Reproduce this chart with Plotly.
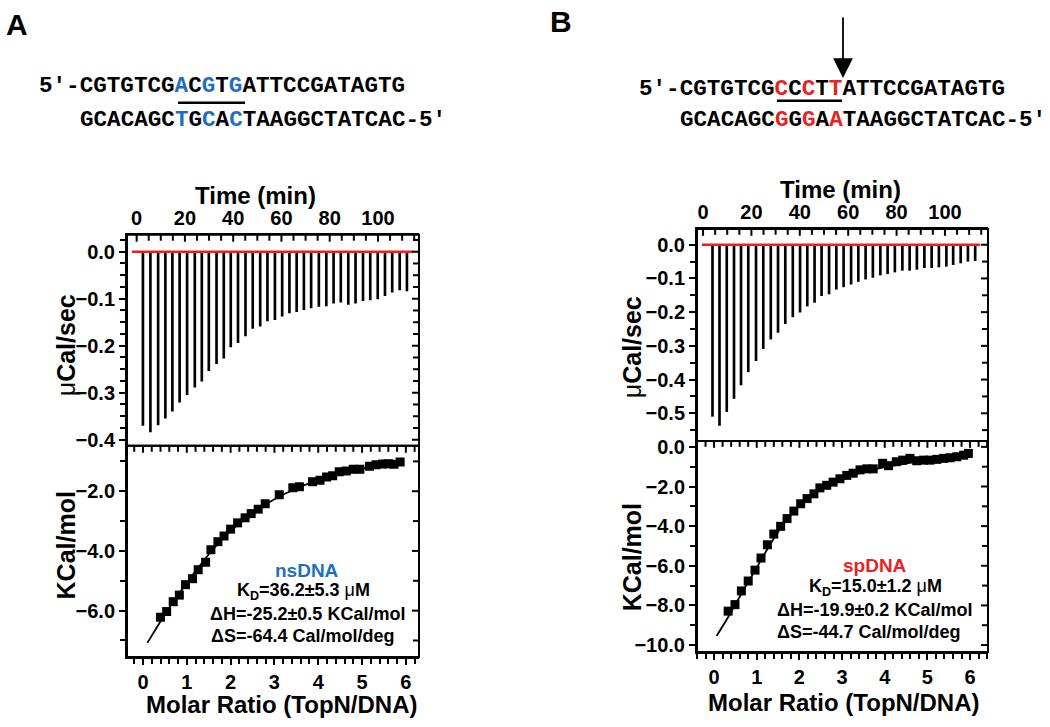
import plotly.graph_objects as go

# ---- data ----
# panel A (nsDNA): raw thermogram
a_time = [2.6, 5.7, 8.9, 11.9, 14.8, 17.8, 20.9, 24.1, 27.0, 29.9, 33.1, 36.1, 39.0,
          42.0, 45.1, 48.1, 51.2, 54.2, 57.3, 60.3, 63.3, 66.3, 69.3, 72.3, 75.5,
          78.6, 81.6, 84.6, 87.7, 90.7, 93.8, 96.8, 99.9, 102.9, 105.9, 109.0, 112.0]
a_peak = [-0.370, -0.384, -0.369, -0.355, -0.340, -0.321, -0.305, -0.289, -0.276,
          -0.254, -0.239, -0.227, -0.203, -0.194, -0.180, -0.164, -0.159, -0.148,
          -0.145, -0.138, -0.131, -0.128, -0.124, -0.120, -0.117, -0.116, -0.110,
          -0.108, -0.113, -0.110, -0.105, -0.103, -0.101, -0.094, -0.087, -0.082, -0.084]
a_base_t = [-2.0, 114.6]
a_base_v = [0.0, 0.0]
# panel A: integrated heats
a_ratio = [0.40, 0.54, 0.69, 0.83, 0.97, 1.13, 1.26, 1.43, 1.55, 1.71, 1.85, 2.00,
           2.16, 2.33, 2.47, 2.63, 2.79, 3.11, 3.42, 3.57, 3.87, 4.04, 4.19, 4.33,
           4.48, 4.64, 4.80, 4.95, 5.17, 5.32, 5.47, 5.60, 5.73, 5.87]
a_heat = [-6.22, -6.03, -5.70, -5.48, -5.13, -4.93, -4.63, -4.38, -3.96, -3.69,
          -3.50, -3.27, -3.06, -2.89, -2.75, -2.60, -2.42, -2.12, -1.88, -1.85,
          -1.68, -1.63, -1.52, -1.48, -1.35, -1.32, -1.26, -1.26, -1.16, -1.11,
          -1.09, -1.08, -1.10, -1.02]
a_fit_x = [0.10, 0.30, 0.50, 0.75, 1.00, 1.25, 1.50, 1.75, 2.00, 2.50, 3.00, 3.50,
           4.00, 4.50, 5.00, 5.50, 5.90]
a_fit_y = [-7.08, -6.60, -6.12, -5.58, -5.07, -4.58, -4.12, -3.70, -3.33, -2.74,
           -2.27, -1.91, -1.63, -1.42, -1.25, -1.12, -1.03]

# panel B (spDNA): raw thermogram
b_time = [3.9, 6.8, 9.8, 12.8, 15.7, 18.7, 21.9, 24.9, 28.0, 31.0, 34.0, 37.1, 40.1,
          43.1, 46.1, 49.0, 52.1, 55.1, 58.1, 61.2, 64.2, 67.2, 70.2, 73.3, 76.3,
          79.3, 82.4, 85.4, 88.4, 91.5, 94.5, 97.5, 100.6, 103.4, 106.5, 109.5, 112.5]
b_peak = [-0.510, -0.537, -0.496, -0.457, -0.417, -0.378, -0.345, -0.309, -0.281,
          -0.261, -0.235, -0.215, -0.201, -0.183, -0.172, -0.152, -0.147, -0.133,
          -0.126, -0.118, -0.110, -0.103, -0.098, -0.091, -0.087, -0.082, -0.077,
          -0.077, -0.074, -0.069, -0.069, -0.067, -0.065, -0.060, -0.055, -0.050, -0.048]
b_base_t = [-0.5, 114.6]
b_base_v = [0.0, 0.0]
# panel B: integrated heats
b_ratio = [0.33, 0.49, 0.64, 0.80, 0.96, 1.10, 1.25, 1.40, 1.56, 1.71, 1.87, 2.03,
           2.18, 2.34, 2.48, 2.64, 2.79, 2.95, 3.11, 3.26, 3.42, 3.58, 3.73, 3.95,
           4.09, 4.27, 4.42, 4.59, 4.75, 4.91, 5.06, 5.22, 5.38, 5.53, 5.69, 5.85, 5.96]
b_heat = [-8.29, -7.96, -7.27, -6.77, -6.22, -5.61, -4.94, -4.40, -4.01, -3.62,
          -3.24, -2.87, -2.61, -2.37, -2.07, -1.94, -1.78, -1.61, -1.44, -1.33,
          -1.16, -1.11, -1.11, -0.83, -0.95, -0.75, -0.67, -0.58, -0.70, -0.67,
          -0.67, -0.63, -0.58, -0.55, -0.50, -0.42, -0.33]
b_fit_x = [0.06, 0.30, 0.50, 0.75, 1.00, 1.25, 1.50, 1.75, 2.00, 2.50, 3.00, 3.50,
           4.00, 4.50, 5.00, 5.50, 6.00]
b_fit_y = [-9.54, -8.70, -7.95, -7.00, -6.10, -5.15, -4.30, -3.55, -2.95, -2.15,
           -1.62, -1.27, -1.02, -0.84, -0.71, -0.60, -0.50]

seq_a = ["5′-CGTGTCG", "A", "C", "G", "T", "G", "ATTCCGATAGTG"]
seq_a2 = ["GCACAGC", "T", "G", "C", "A", "C", "TAAGGCTATCAC-5′"]
seq_b = ["5′-CGTGTCG", "C", "C", "C", "T", "T", "ATTCCGATAGTG"]
seq_b2 = ["GCACAGC", "G", "G", "G", "A", "A", "TAAGGCTATCAC-5′"]

BLUE = "#1f6fc0"
RED = "#e8231f"
W, H = 1050, 727
SANS = "Liberation Sans, Arial, sans-serif"
MONO = "Liberation Mono, Courier New, monospace"


def px(x):
    return x / W


def py(y):
    return 1 - y / H


fig = go.Figure()

panels = [
    dict(t=a_time, p=a_peak, bt=a_base_t, bv=a_base_v, r=a_ratio, h=a_heat,
         fx=a_fit_x, fy=a_fit_y, xt="x", yt="y", xm="x2", ym="y2"),
    dict(t=b_time, p=b_peak, bt=b_base_t, bv=b_base_v, r=b_ratio, h=b_heat,
         fx=b_fit_x, fy=b_fit_y, xt="x3", yt="y3", xm="x4", ym="y4"),
]
for pn in panels:
    fig.add_trace(go.Bar(x=pn["t"], y=pn["p"], width=1.1, marker=dict(color="black", line=dict(width=0)),
                         xaxis=pn["xt"], yaxis=pn["yt"], showlegend=False))
    fig.add_trace(go.Scatter(x=pn["bt"], y=pn["bv"], mode="lines", line=dict(color=RED, width=2.5),
                             xaxis=pn["xt"], yaxis=pn["yt"], showlegend=False))
    fig.add_trace(go.Scatter(x=pn["fx"], y=pn["fy"], mode="lines", line=dict(color="black", width=1.8, shape="spline"),
                             xaxis=pn["xm"], yaxis=pn["ym"], showlegend=False))
    fig.add_trace(go.Scatter(x=pn["r"], y=pn["h"], mode="markers",
                             marker=dict(symbol="square", size=9, color="black"),
                             xaxis=pn["xm"], yaxis=pn["ym"], showlegend=False))

tickfont = dict(family=SANS, size=20, color="black", weight="bold")


def ax(**kw):
    d = dict(showline=True, linewidth=2, linecolor="black", showgrid=False, zeroline=False,
             ticklen=6, tickwidth=2, tickcolor="black", tickfont=tickfont)
    d.update(kw)
    return d


def minor(dt):
    return dict(dtick=dt, tick0=0, ticklen=5, tickwidth=2, tickcolor="black", ticks="outside")


def tick_vals(lo, hi, dt_minor, dt_major):
    out = []
    k = int(lo // dt_minor) - 1
    while k * dt_minor <= hi + 1e-9:
        v = k * dt_minor
        if lo <= v <= hi:
            q = v / dt_major
            out.append((v, abs(q - round(q)) < 1e-6))
        k += 1
    return out


def inside_ticks(p0, p1, rng, edge, orient, dt_minor, dt_major):
    # tick marks pointing into a box, placed in pixel space along one edge
    res = []
    lo, hi = rng
    for v, major in tick_vals(lo, hi, dt_minor, dt_major):
        L = 7 if major else 6
        f = (v - lo) / (hi - lo)
        line = dict(color="black", width=2)
        if orient == "top":
            x = p0 + f * (p1 - p0)
            res.append(dict(type="line", xref="paper", yref="paper", x0=px(x), x1=px(x),
                            y0=py(edge), y1=py(edge + L), line=line, layer="above"))
        else:
            y = p0 - f * (p0 - p1)
            res.append(dict(type="line", xref="paper", yref="paper", y0=py(y), y1=py(y),
                            x0=px(edge), x1=px(edge - L), line=line, layer="above"))
    return res


# panel geometry (pixels)
A = dict(x0=127, x1=419, yt=233, ym=447, yb=661)
B = dict(x0=697, x1=988, yt=227, ym=442, yb=656)

shapes = []
layout_axes = {}
for g, names, rng in [
    (A, ("xaxis", "yaxis", "xaxis2", "yaxis2"),
     dict(t=[-4, 117], u=[-0.413, 0.036], umin=0.025, m=[-0.365, 6.3], k=[-7.55, -0.48])),
    (B, ("xaxis3", "yaxis3", "xaxis4", "yaxis4"),
     dict(t=[-2.5, 117.8], u=[-0.582, 0.047], umin=0.05, m=[-0.4, 6.42], k=[-10.35, 0.3])),
]:
    xt, yt, xm, ym = names
    xdom = [px(g["x0"]), px(g["x1"])]
    top_dom = [py(g["ym"]), py(g["yt"])]
    bot_dom = [py(g["yb"]), py(g["ym"])]
    s = lambda n: n.replace("axis", "")
    layout_axes[xt] = ax(domain=xdom, anchor=s(yt), side="top", range=rng["t"], dtick=20, tick0=0,
                         ticks="")
    layout_axes[yt] = ax(domain=top_dom, anchor=s(xt), range=rng["u"], dtick=0.1, tick0=0,
                         tickformat=".1f", ticks="outside", minor=minor(rng["umin"]))
    layout_axes[xm] = ax(domain=xdom, anchor=s(ym), side="bottom", range=rng["m"], dtick=1, tick0=0,
                         ticks="outside", minor=minor(0.2))
    layout_axes[ym] = ax(domain=bot_dom, anchor=s(xm), range=rng["k"], dtick=2, tick0=0,
                         tickformat=".1f", ticks="outside", minor=minor(1))
    # frame of both boxes
    for y0, y1 in [(g["yt"], g["ym"]), (g["ym"], g["yb"])]:
        shapes.append(dict(type="rect", xref="paper", yref="paper", layer="above",
                           x0=px(g["x0"]), x1=px(g["x1"]), y0=py(y1), y1=py(y0),
                           line=dict(color="black", width=2), fillcolor="rgba(0,0,0,0)"))
    # inside ticks: top of time axis, right sides, top of lower box
    shapes += inside_ticks(g["x0"], g["x1"], rng["t"], g["yt"], "top", 5, 20)
    shapes += inside_ticks(g["ym"], g["yt"], rng["u"], g["x1"], "right", rng["umin"], 0.1)
    shapes += inside_ticks(g["x0"], g["x1"], rng["m"], g["ym"], "top", 0.2, 1)
    shapes += inside_ticks(g["yb"], g["ym"], rng["k"], g["x1"], "right", 1, 2)

fig.update_layout(**layout_axes)

ann = []


def text(x, y, t, size=18, color="black", family=SANS, weight="bold", xanchor="center", angle=0):
    ann.append(dict(x=px(x), y=py(y), xref="paper", yref="paper", text=t, showarrow=False,
                    xanchor=xanchor, yanchor="middle", textangle=angle, borderpad=0,
                    font=dict(family=family, size=size, color=color, weight=weight)))


def seq(parts, color):
    out = ""
    for i, p in enumerate(parts):
        if i in (1, 3, 5):
            out += f"<span style='color:{color}'>{p}</span>"
        else:
            out += p
    return out


# panel letters
text(17, 20, "A", size=30)
text(561, 17, "B", size=30)

# sequences
SEQ = 22.6
CH = SEQ * 0.6
SA, SB = 38, 638
text(SA, 82, seq(seq_a, BLUE), size=SEQ, family=MONO, xanchor="left")
text(SA + 3 * CH, 117, seq(seq_a2, BLUE), size=SEQ, family=MONO, xanchor="left")
text(SB, 85, seq(seq_b, RED), size=SEQ, family=MONO, xanchor="left")
text(SB + 3 * CH, 117, seq(seq_b2, RED), size=SEQ, family=MONO, xanchor="left")

shapes += [
    dict(type="line", xref="paper", yref="paper", x0=px(178), x1=px(245),
         y0=py(99), y1=py(99), line=dict(color="black", width=2.5)),
    dict(type="line", xref="paper", yref="paper", x0=px(777), x1=px(842),
         y0=py(97), y1=py(97), line=dict(color="black", width=2.5)),
]

# cleavage arrow
ann.append(dict(x=px(843), y=py(74), xref="paper", yref="paper", ax=0, ay=-62, text="",
                showarrow=True, arrowhead=2, arrowsize=2.2, arrowwidth=1.8, arrowcolor="black"))

# axis titles
for (tx, ty, mx, my, ux, uy, kx, ky) in [
    (255, 193, 282, 709, 66, 345, 66, 548),
    (840, 187, 844, 707, 632, 347, 632, 560),
]:
    text(tx, ty, "Time (min)", size=24)
    text(mx, my, "Molar Ratio (TopN/DNA)", size=24)
    text(ux, uy, "<span style='font-weight:normal'>μ</span>Cal/sec", size=25, angle=-90)
    text(kx, ky, "KCal/mol", size=25, angle=-90)

# fit results
mu = "<span style='font-weight:normal'>μ</span>"
text(307, 573, "nsDNA", size=19, color=BLUE)
text(303, 595, f"K<sub>D</sub>=36.2±5.3 {mu}M", size=18)
text(307, 617, "ΔH=-25.2±0.5 KCal/mol", size=18)
text(303, 640, "ΔS=-64.4 Cal/mol/deg", size=18)

text(875, 568, "spDNA", size=19, color=RED)
text(875, 591, f"K<sub>D</sub>=15.0±1.2 {mu}M", size=18)
text(874, 613, "ΔH=-19.9±0.2 KCal/mol", size=18)
text(869, 636, "ΔS=-44.7 Cal/mol/deg", size=18)

fig.update_layout(
    width=W, height=H, margin=dict(l=0, r=0, t=0, b=0),
    paper_bgcolor="white", plot_bgcolor="rgba(0,0,0,0)",
    barmode="overlay", annotations=ann, shapes=shapes,
    font=dict(family=SANS, color="black"),
)

fig.write_html("out.html", config={"displayModeBar": False},
               post_script="document.body.style.margin='0';")
